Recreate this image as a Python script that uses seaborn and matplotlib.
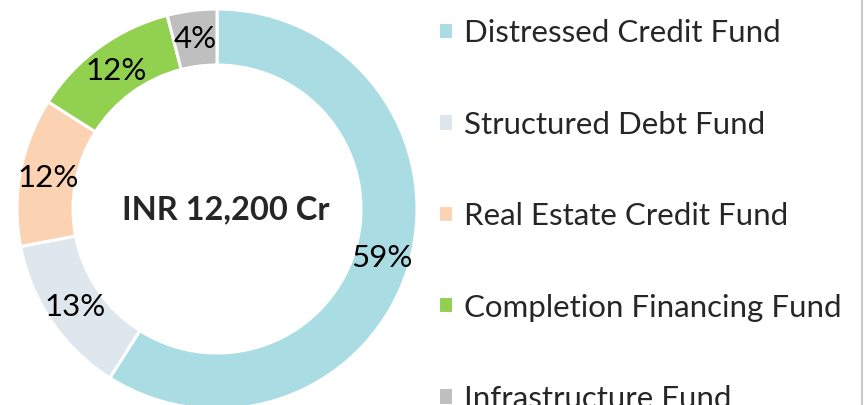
import matplotlib
matplotlib.use("Agg")
import matplotlib.pyplot as plt
import seaborn as sns
from matplotlib.lines import Line2D

# data
funds = ["Distressed Credit Fund", "Structured Debt Fund", "Real Estate Credit Fund",
         "Completion Financing Fund", "Infrastructure Fund"]
shares = [59, 13, 12, 12, 4]
colors = ["#A9DCE3", "#DEE6EE", "#FBD3B2", "#92D050", "#BFBFBF"]
center_label = "INR 12,200 Cr"

sns.set_theme(style="white")
plt.rcParams["font.family"] = ["Lato", "DejaVu Sans"]

fig = plt.figure(figsize=(8.66, 4.06), dpi=100)
ax = fig.add_axes([17 / 866, -4 / 406, 400 / 866, 400 / 406])

wedges, texts, pcts = ax.pie(
    shares,
    colors=colors,
    startangle=90,
    counterclock=False,
    autopct=lambda p: f"{p:.0f}%",
    pctdistance=0.86,
    wedgeprops=dict(width=0.28, edgecolor="white", linewidth=2.2),
    textprops=dict(fontsize=22.5, color="black"),
)
ax.set_xlim(-1, 1)
ax.set_ylim(-1, 1)
ax.set_aspect("equal")

ax.text(0.045, 0, center_label, ha="center", va="center", fontsize=23.5, fontweight="bold")

fig.legend(
    wedges, funds,
    loc="upper left",
    bbox_to_anchor=(425 / 866, 1 - 7 / 406),
    frameon=False,
    fontsize=22.5,
    handlelength=0.48,
    handleheight=0.48,
    handletextpad=0.38,
    labelspacing=2.03,
    borderaxespad=0,
)

# thin border line at right edge
fig.add_artist(Line2D([862 / 866, 862 / 866], [0, 1], color="#C8C8C8", lw=1.5))

fig.savefig("out.png", dpi=100)
